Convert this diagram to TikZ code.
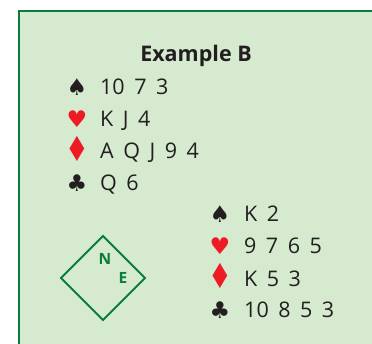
\documentclass[tikz,border=0pt]{standalone}
\usepackage{graphicx}
\usepackage{fontspec}
\setmainfont[WordSpace=1.7]{Open Sans}
\newfontfamily\titlefont{Open Sans}
\newfontfamily\suitfont{DejaVu Sans}
\definecolor{boxfill}{RGB}{213,234,207}
\definecolor{boxline}{RGB}{10,125,58}
\definecolor{ink}{RGB}{35,31,32}
\definecolor{suitred}{RGB}{237,28,36}
\newcommand{\diamsuit}{\scalebox{1.15}[1.5]{♦}}
\tikzset{
  cardtxt/.style={inner sep=0pt, anchor=base west, text=ink, font=\fontsize{21.5}{25}\selectfont},
  suit/.style={inner sep=0pt, anchor=base, font=\suitfont\fontsize{23}{26}\selectfont},
  blacksuit/.style={suit, text=ink},
  redsuit/.style={suit, text=suitred},
  compassletter/.style={inner sep=0pt, text=boxline, font=\titlefont\bfseries\fontsize{15.5}{17}\selectfont},
}
\begin{document}
\begin{tikzpicture}[x=1pt,y=-1pt]
\useasboundingbox (0,0) rectangle (372,343);
\clip (0,0) rectangle (372,343);
\fill[white] (0,0) rectangle (372,343);
\draw[draw=boxline, line width=2.2pt, fill=boxfill] (19,11) rectangle (392,362);
\node[inner sep=0pt, anchor=base, text=ink, font=\titlefont\bfseries\fontsize{21.5}{25}\selectfont] (title) at (196,61.5) {Example B};
% North
\node[blacksuit] (ns) at (77,95) {♠};
\node[cardtxt] (nst) at (100,94) {10 7 3};
\node[redsuit] (nh) at (77,127.5) {♥};
\node[cardtxt] (nht) at (100,126.5) {K J 4};
\node[redsuit] (nd) at (77,161) {\diamsuit};
\node[cardtxt] (ndt) at (100,158.5) {A Q J 9 4};
\node[blacksuit] (nc) at (77,191) {♣};
\node[cardtxt] (nct) at (100,190) {Q 6};
% East/South hand
\node[blacksuit] (ss) at (220,222.5) {♠};
\node[cardtxt] (sst) at (244,221.5) {K 2};
\node[redsuit] (sh) at (220,254.5) {♥};
\node[cardtxt] (sht) at (244,253.5) {9 7 6 5};
\node[redsuit] (sd) at (220,288.5) {\diamsuit};
\node[cardtxt] (sdt) at (244,286) {K 5 3};
\node[blacksuit] (sc) at (220,318.5) {♣};
\node[cardtxt] (sct) at (244,317.5) {10 8 5 3};
% compass
\coordinate (ct) at (103,236);
\coordinate (cr) at (145,278);
\coordinate (cb) at (103,320);
\coordinate (cl) at (61,278);
\draw[boxline, line width=2pt, line join=miter] (ct) -- (cr) -- (cb) -- (cl) -- cycle;
\node[compassletter] (north) at (105,259) {N};
\node[compassletter] (east) at (123,278) {E};
\end{tikzpicture}
\end{document}
